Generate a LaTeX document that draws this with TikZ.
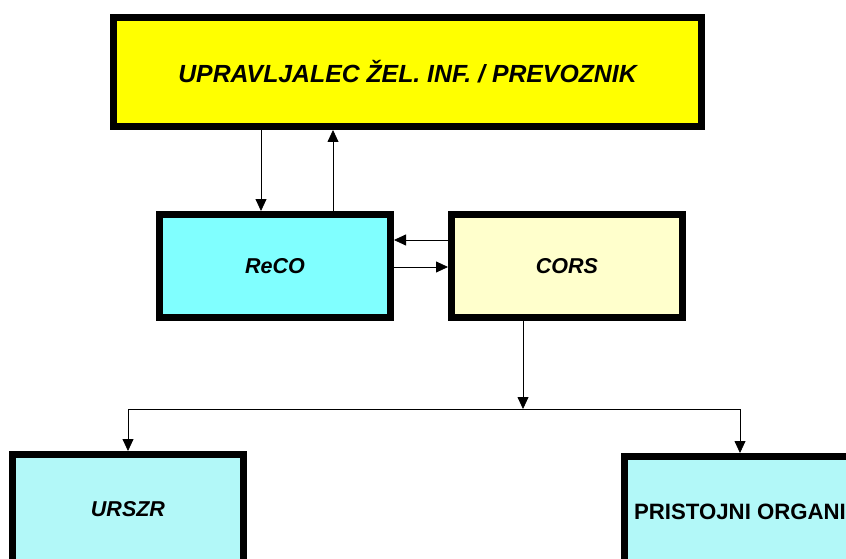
\documentclass[tikz,border=0pt]{standalone}
\usepackage{fontspec}
\setmainfont{Liberation Sans}
\usetikzlibrary{arrows.meta}
\definecolor{upryellow}{RGB}{255,255,0}
\definecolor{recocyan}{RGB}{128,255,255}
\definecolor{corsyellow}{RGB}{255,255,204}
\definecolor{dotcyan}{RGB}{178,248,248}
\begin{document}
\begin{tikzpicture}[x=1pt,y=-1pt,
    box/.style={draw,line width=7pt,minimum width=231pt,minimum height=103pt,inner sep=0pt},
    boxfont/.style={font=\fontsize{21.5}{24}\selectfont\bfseries\itshape},
    link/.style={line width=0.8pt,-{Triangle[length=12pt,width=11pt]}}]
    \useasboundingbox (0,0) rectangle (846,559);
    \node [box,fill=upryellow,minimum width=588pt,minimum height=109pt,font=\fontsize{24.8}{28}\selectfont\bfseries\itshape] (upr) at (407.5, 72) {UPRAVLJALEC ŽEL. INF. / PREVOZNIK};
    \node [box,fill=recocyan,boxfont] (reco) at (275, 266) {ReCO};
    \node [box,fill=corsyellow,boxfont] (cors) at (567, 266) {CORS};
    \node [box,fill=dotcyan,boxfont,minimum height=125pt] (urszr) at (128, 517) {\raisebox{16pt}{URSZR}};
    \node [box,fill=dotcyan,font=\fontsize{22.2}{24}\selectfont\bfseries,minimum height=125pt] (prist) at (740, 519) {\raisebox{15pt}{PRISTOJNI ORGANI}};
    % upravljalec <-> ReCO
    \draw [link] ([xshift=-14pt]reco.north |- upr.south) -- ([xshift=-14pt]reco.north);
    \draw [link] ([xshift=58pt]reco.north) -- ([xshift=58pt]reco.north |- upr.south);
    % ReCO <-> CORS
    \draw [link] ([yshift=26pt]cors.west) -- ([yshift=26pt]reco.east);
    \draw [link] ([yshift=-1pt]reco.east) -- ([yshift=-1pt]cors.west);
    % CORS -> URSZR, pristojni organi
    \coordinate (split) at (523, 409);
    \draw [link] (split |- cors.south) -- (split);
    \draw [link] (split) -| (urszr.north);
    \draw [link] (split) -| (prist.north);
\end{tikzpicture}
\end{document}
